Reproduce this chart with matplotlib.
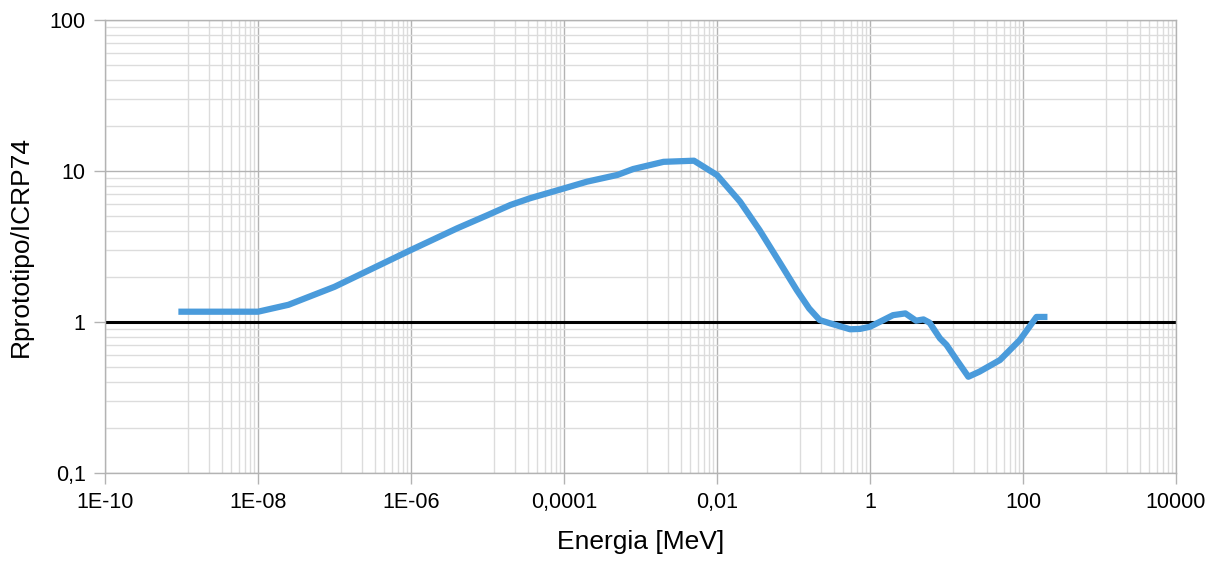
import numpy as np
import matplotlib.pyplot as plt
from matplotlib.ticker import FixedLocator, FixedFormatter, NullFormatter

plt.rcParams['font.family'] = ['Liberation Sans', 'DejaVu Sans']

# energy [MeV] and ratio
energia = [1e-9, 1e-8, 2.5e-8, 1e-7, 1e-6, 4e-6, 1e-5, 2e-5, 3.6e-5, 1e-4,
           2e-4, 5e-4, 8e-4, 2e-3, 5e-3, 1e-2, 2e-2, 3.6e-2, 6.7e-2, 0.11,
           0.16, 0.22, 0.3, 0.55, 0.74, 1.0, 2.0, 2.9, 4.0, 5.0,
           6.0, 8.2, 10, 13.6, 19.3, 27, 50, 91, 150, 190]
ratio = [1.17, 1.17, 1.30, 1.71, 3.0, 4.17, 5.1, 5.96, 6.6, 7.67,
         8.5, 9.42, 10.3, 11.5, 11.7, 9.4, 6.27, 4.06, 2.45, 1.63,
         1.23, 1.03, 0.98, 0.895, 0.90, 0.93, 1.11, 1.14, 1.02, 1.04,
         0.99, 0.78, 0.705, 0.56, 0.434, 0.469, 0.56, 0.76, 1.08, 1.08]

x_ticks = [1e-10, 1e-8, 1e-6, 1e-4, 1e-2, 1, 100, 10000]
x_labels = ['1E-10', '1E-08', '1E-06', '0,0001', '0,01', '1', '100', '10000']
y_ticks = [0.1, 1, 10, 100]
y_labels = ['0,1', '1', '10', '100']

fig = plt.figure(figsize=(12.21, 5.61), dpi=100)
ax = fig.add_axes([105 / 1221, 88 / 561, 1071 / 1221, 453 / 561])

ax.set_xscale('log')
ax.set_yscale('log')
ax.set_xlim(1e-10, 1e4)
ax.set_ylim(0.1, 100)

# Excel-style base-100 minor grid on x, base-10 on y
x_minor = [(1 + 11 * i) * 10.0 ** k for k in range(-10, 4, 2) for i in range(1, 9)]
y_minor = [m * 10.0 ** k for k in range(-1, 2) for m in range(2, 10)]

ax.xaxis.set_major_locator(FixedLocator(x_ticks))
ax.xaxis.set_major_formatter(FixedFormatter(x_labels))
ax.xaxis.set_minor_locator(FixedLocator(x_minor))
ax.xaxis.set_minor_formatter(NullFormatter())
ax.yaxis.set_major_locator(FixedLocator(y_ticks))
ax.yaxis.set_major_formatter(FixedFormatter(y_labels))
ax.yaxis.set_minor_locator(FixedLocator(y_minor))
ax.yaxis.set_minor_formatter(NullFormatter())

ax.grid(which='minor', color='#dcdcdc', lw=1)
ax.grid(which='major', color='#b3b3b3', lw=1)
ax.set_axisbelow(True)

ax.tick_params(which='major', length=8, width=1, color='#b3b3b3',
               labelsize=15.5, pad=6)
ax.tick_params(which='minor', length=0)
for s in ax.spines.values():
    s.set_color('#b3b3b3')
    s.set_linewidth(1)

ax.axhline(1, color='black', lw=2.2, zorder=2)
ax.plot(energia, ratio, color='#4a9bdb', lw=4.5, solid_joinstyle='round',
        zorder=3)

ax.set_xlabel('Energia [MeV]', fontsize=19, labelpad=12)
ax.set_ylabel('Rprototipo/ICRP74', fontsize=19, labelpad=12)

fig.savefig('out.png', dpi=100)
